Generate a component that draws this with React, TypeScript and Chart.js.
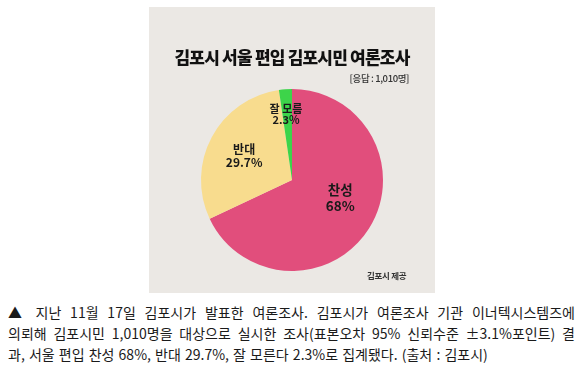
import React, { useEffect, useRef } from "react";
import { Chart, registerables } from "chart.js";

Chart.register(...registerables);

const categories = ["찬성", "반대", "잘 모름"];
const values = [68, 29.7, 2.3];
const valueLabels = ["68%", "29.7%", "2.3%"];
const colors = ["#E14E7C", "#F8DC8E", "#3DD44A"];
const titleText = "김포시 서울 편입 김포시민 여론조사";
const subtitleText = "[응답 : 1,010명]";
const sourceText = "김포시 제공";
const captionLines = [
  "▲ 지난 11월 17일 김포시가 발표한 여론조사. 김포시가 여론조사 기관 이너텍시스템즈에",
  "의뢰해 김포시민 1,010명을 대상으로 실시한 조사(표본오차 95% 신뢰수준 ±3.1%포인트) 결",
  "과, 서울 편입 찬성 68%, 반대 29.7%, 잘 모른다 2.3%로 집계됐다. (출처 : 김포시)",
];

// label placement style (relative to each arc)
const labelStyle = [
  { r: 0.565, da: -12, size: 13.5, gap: 16 },
  { r: 0.59, da: -1.3, size: 12, gap: 13 },
  { r: 0.72, da: -1.1, size: 11, gap: 11 },
];

const FONT = '"Noto Sans CJK KR", "Noto Sans", sans-serif';

const sliceLabels = {
  id: "sliceLabels",
  afterDatasetsDraw(chart: any) {
    const ctx = chart.ctx;
    const meta = chart.getDatasetMeta(0);
    meta.data.forEach((arc: any, i: number) => {
      const p = arc.getProps(["x", "y", "startAngle", "endAngle", "outerRadius"], true);
      const st = labelStyle[i];
      const a = (p.startAngle + p.endAngle) / 2 + (st.da * Math.PI) / 180;
      const px = p.x + Math.cos(a) * p.outerRadius * st.r;
      const py = p.y + Math.sin(a) * p.outerRadius * st.r;
      ctx.save();
      ctx.fillStyle = "#1a1a1a";
      ctx.textAlign = "center";
      ctx.textBaseline = "middle";
      ctx.font = `bold ${st.size}px ${FONT}`;
      ctx.fillText(categories[i], px, py - st.gap / 2);
      ctx.fillText(valueLabels[i], px, py + st.gap / 2);
      ctx.restore();
    });
  },
};

export default function App() {
  const ref = useRef<HTMLCanvasElement>(null);

  useEffect(() => {
    if (!ref.current) return;
    const chart = new Chart(ref.current, {
      type: "pie",
      data: {
        labels: categories,
        datasets: [
          {
            data: values,
            backgroundColor: colors,
            borderWidth: 0,
          },
        ],
      },
      options: {
        responsive: false,
        animation: false,
        devicePixelRatio: 1,
        layout: { padding: { left: 52, right: 52, top: 82, bottom: 22 } },
        plugins: {
          legend: { display: false },
          tooltip: { enabled: false },
          title: { display: false },
        },
      },
      plugins: [sliceLabels],
    });
    return () => chart.destroy();
  }, []);

  return (
    <div
      style={{
        position: "absolute",
        left: 0,
        top: 0,
        width: 583,
        height: 365,
        background: "#ffffff",
        fontFamily: FONT,
        overflow: "hidden",
      }}
    >
      <div
        style={{
          position: "absolute",
          left: 149,
          top: 7,
          width: 286,
          height: 286,
          background: "#EBE8E4",
        }}
      >
        <canvas ref={ref} width={286} height={286} style={{ position: "absolute", left: 0, top: 0 }} />
        <div
          style={{
            position: "absolute",
            left: 0,
            top: 40,
            width: 286,
            textAlign: "center",
            fontSize: 17,
            lineHeight: "20px",
            fontWeight: 900,
            letterSpacing: -0.8,
            color: "#111",
          }}
        >
          {titleText}
        </div>
        <div
          style={{
            position: "absolute",
            right: 26,
            top: 65,
            fontSize: 9.5,
            lineHeight: "13px",
            fontWeight: 500,
            color: "#333",
            letterSpacing: -0.4,
          }}
        >
          {subtitleText}
        </div>
        <div
          style={{
            position: "absolute",
            left: 218,
            top: 262,
            fontSize: 8.5,
            lineHeight: "12px",
            fontWeight: 700,
            color: "#333",
            letterSpacing: -0.3,
          }}
        >
          {sourceText}
        </div>
      </div>
      <div
        style={{
          position: "absolute",
          left: 8,
          top: 302,
          width: 567,
          fontSize: 14,
          lineHeight: "21px",
          color: "#1a1a1a",
          wordSpacing: 1,
        }}
      >
        {captionLines.map((line, i) => (
          <div
            key={i}
            style={{
              whiteSpace: "nowrap",
              textAlign: i < captionLines.length - 1 ? "justify" : "left",
              textAlignLast: i < captionLines.length - 1 ? "justify" : "left",
            }}
          >
            {line}
          </div>
        ))}
      </div>
    </div>
  );
}
